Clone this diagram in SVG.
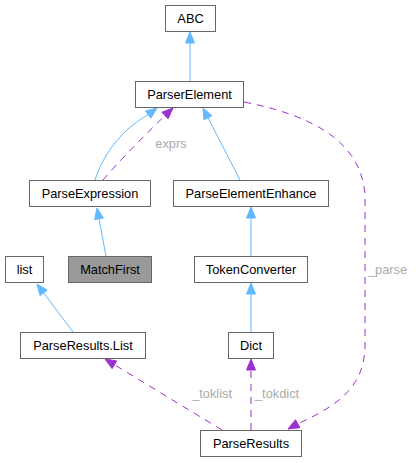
<svg xmlns="http://www.w3.org/2000/svg" width="418" height="463" viewBox="0 0 418 463">
<style>
.n rect{fill:#ffffff;stroke:#666666;stroke-width:1}
.n text{font-family:"Liberation Sans",Arial,sans-serif;font-size:12.8px;fill:#000000;text-anchor:middle}
#MatchFirst rect{fill:#999999}
.inh{fill:none;stroke:#63b8ff;stroke-width:1}
.inhh{fill:#63b8ff;stroke:#63b8ff;stroke-width:1}
.use{fill:none;stroke:#9a32cd;stroke-width:1;stroke-dasharray:7,6}
.useh{fill:#9a32cd;stroke:#9a32cd;stroke-width:1}
.lbl{font-family:"Liberation Sans",Arial,sans-serif;font-size:12.8px;fill:#aaaaaa}
</style>
<rect width="418" height="463" fill="#ffffff"/>
<g id="edges">
  <path class="inh" d="M190,81 L190,43"/>
  <polygon class="inhh" points="190,32 185.5,43 194.5,43"/>
  <path class="inh" d="M95,180 C104,152 124,128 148.2,114.6"/>
  <polygon class="inhh" points="157,108 150.9,118.2 145.5,111"/>
  <path class="use" d="M103,180 C120,160 145,135 165,115.5"/>
  <polygon class="useh" points="173,108 168.1,118.8 161.9,112.2"/>
  <text class="lbl" x="171" y="148" text-anchor="middle">exprs</text>
  <path class="inh" d="M240,180 L208,117.8"/>
  <polygon class="inhh" points="203,108 212,115.7 204,119.8"/>
  <path class="inh" d="M251,256 L251,218"/>
  <polygon class="inhh" points="251,207 246.5,218 255.5,218"/>
  <path class="inh" d="M251,332 L251,294"/>
  <polygon class="inhh" points="251,283 246.5,294 255.5,294"/>
  <path class="inh" d="M106,256 L99,218.8"/>
  <polygon class="inhh" points="97,208 103.4,218 94.6,219.6"/>
  <path class="inh" d="M73,332 L43.6,292.8"/>
  <polygon class="inhh" points="37,284 47.2,290.1 40,295.5"/>
  <path class="use" d="M251,430 L251,370"/>
  <polygon class="useh" points="251,359 246.5,370 255.5,370"/>
  <text class="lbl" x="255" y="398">_tokdict</text>
  <path class="use" d="M222,430 L114.4,364.7"/>
  <polygon class="useh" points="105,359 116.7,360.9 112.1,368.6"/>
  <text class="lbl" x="232" y="398" text-anchor="end">_toklist</text>
  <path class="use" d="M244,102 C310,115 361,140 365,195 L365,345 C365,385 340,405 297.7,423.7"/>
  <polygon class="useh" points="288,429 299.9,427.7 295.5,419.7"/>
  <text class="lbl" x="368" y="274">_parse</text>
</g>
<g id="ABC" class="n"><rect x="165.5" y="5.5" width="50" height="26"/><text x="190.5" y="23">ABC</text></g>
<g id="ParserElement" class="n"><rect x="135.5" y="81.5" width="108" height="26"/><text x="189.5" y="99">ParserElement</text></g>
<g id="ParseExpression" class="n"><rect x="29.5" y="180.5" width="121" height="26"/><text x="90" y="198">ParseExpression</text></g>
<g id="ParseElementEnhance" class="n"><rect x="173.5" y="180.5" width="155" height="26"/><text x="251" y="198">ParseElementEnhance</text></g>
<g id="list" class="n"><rect x="5.5" y="256.5" width="38" height="26"/><text x="24.5" y="274">list</text></g>
<g id="MatchFirst" class="n"><rect x="68.5" y="256.5" width="83" height="26"/><text x="110" y="274">MatchFirst</text></g>
<g id="TokenConverter" class="n"><rect x="194.5" y="256.5" width="113" height="26"/><text x="251" y="274">TokenConverter</text></g>
<g id="ParseResultsList" class="n"><rect x="20.5" y="332.5" width="125" height="26"/><text x="83" y="350">ParseResults.List</text></g>
<g id="Dict" class="n"><rect x="228.5" y="332.5" width="45" height="26"/><text x="251" y="350">Dict</text></g>
<g id="ParseResults" class="n"><rect x="200.5" y="430.5" width="101" height="26"/><text x="251" y="448">ParseResults</text></g>
</svg>
